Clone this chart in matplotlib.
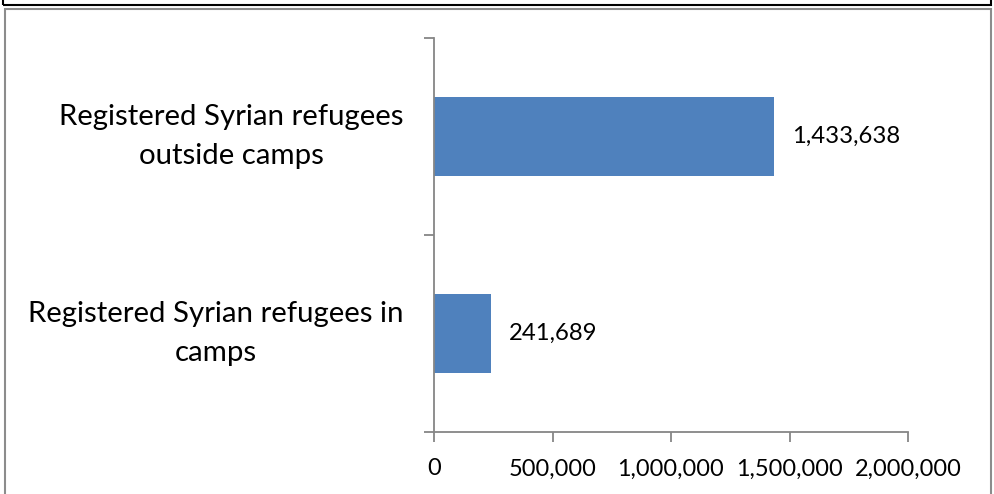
import matplotlib
matplotlib.use("Agg")
import matplotlib.pyplot as plt
from matplotlib.patches import Rectangle

categories = ["Registered Syrian refugees in\ncamps", "Registered Syrian refugees\noutside camps"]
values = [241689, 1433638]
xticks = [0, 500000, 1000000, 1500000, 2000000]
xticklabels = ["0", "500,000", "1,000,000", "1,500,000", "2,000,000"]
bar_color = "#4F81BD"

plt.rcParams['font.family'] = ['Lato', 'DejaVu Sans']

W, H = 994, 494
fig = plt.figure(figsize=(W/100, H/100), dpi=100)
fig.patch.set_facecolor("white")

# frames
fig.patches.append(Rectangle((3/W, 1 - 5/H), 988/W, 10/H, transform=fig.transFigure,
                             fill=False, edgecolor="black", linewidth=1.5))
fig.patches.append(Rectangle((5/W, -0.05), 986/W, 1.05 - 9/H, transform=fig.transFigure,
                             fill=False, edgecolor="#8c8c8c", linewidth=1.5))

ax = fig.add_axes([434/W, 1 - 432/H, (908-434)/W, (432-38)/H])
ax.barh(range(len(values)), values, height=0.4, color=bar_color)
ax.set_xlim(0, 2000000)
ax.set_ylim(-0.5, 1.5)

for s in ["top", "right"]:
    ax.spines[s].set_visible(False)
for s in ["left", "bottom"]:
    ax.spines[s].set_color("#868686")
    ax.spines[s].set_linewidth(1.3)

ax.set_xticks(xticks)
ax.set_xticklabels(xticklabels, fontsize=16.9)
ax.tick_params(axis="x", direction="out", length=7, color="#868686", width=1.3, pad=12)
ax.set_yticks([-0.5, 0.5, 1.5])
ax.set_yticklabels([])
ax.tick_params(axis="y", direction="out", length=7, color="#868686", width=1.3)

for i, (c, v) in enumerate(zip(categories, values)):
    ax.annotate(c, xy=(0, i), xycoords=("axes fraction", "data"), xytext=(-22, 0),
                textcoords="offset points", ha="right", va="center",
                multialignment="center", fontsize=21.2, linespacing=1.58)
    ax.annotate(f"{v:,}", xy=(v, i), xytext=(13, 0), textcoords="offset points",
                ha="left", va="center", fontsize=17.2)

fig.savefig("out.png", dpi=100)
